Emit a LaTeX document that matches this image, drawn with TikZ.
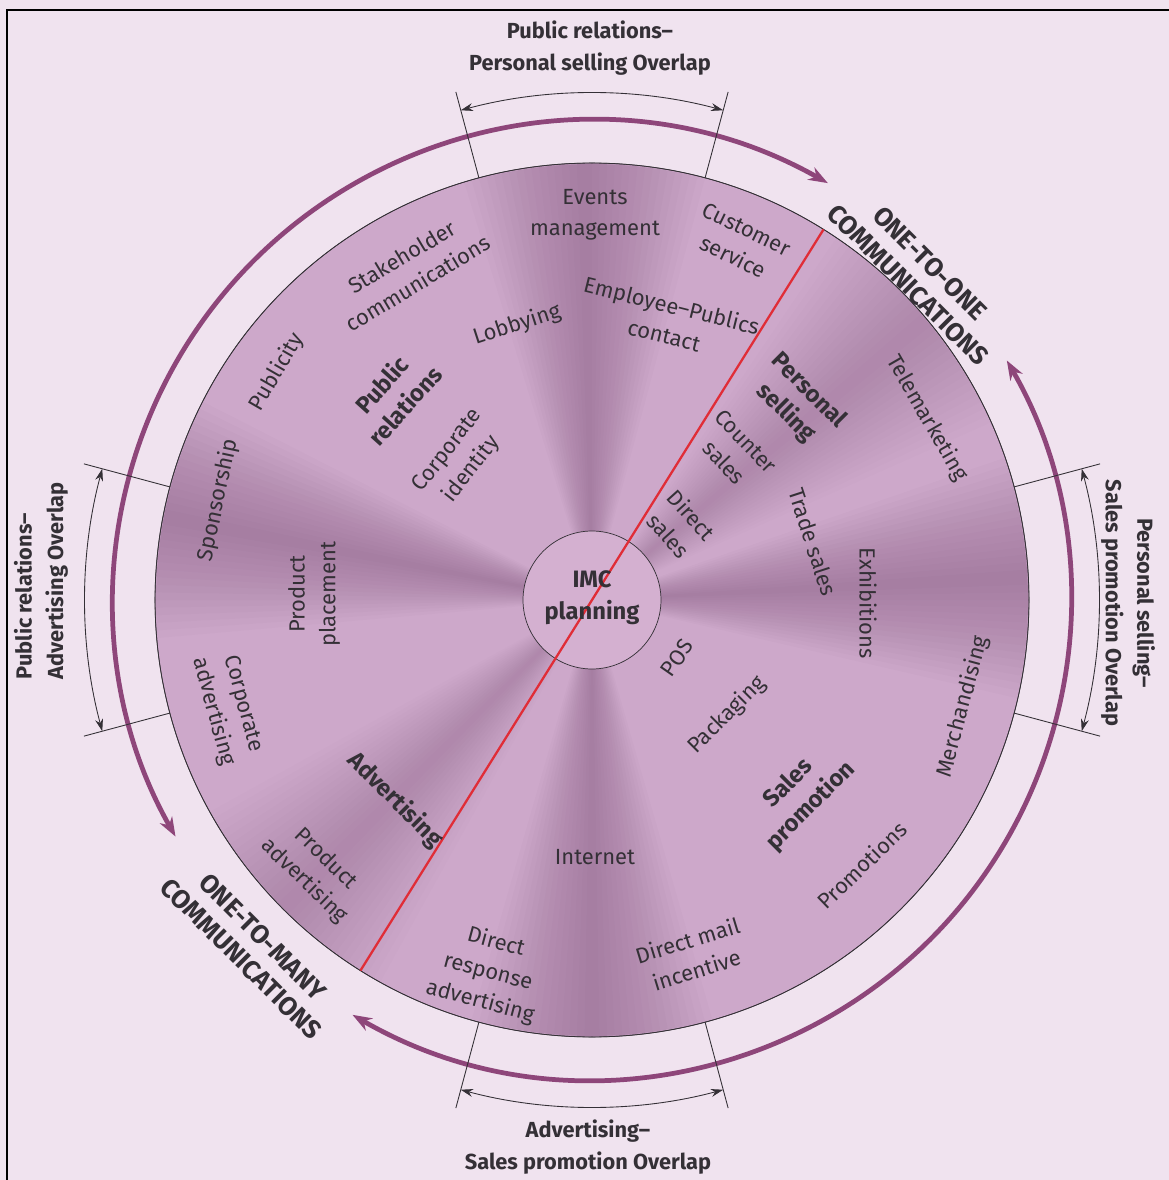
\documentclass[tikz,border=0pt]{standalone}
\usepackage{fontspec}
\setmainfont{Fira Sans}
\usetikzlibrary{arrows.meta}
\definecolor{pagebg}{RGB}{240,227,239}
\definecolor{wheelbase}{RGB}{205,168,202}
\definecolor{wheelray}{RGB}{128,84,124}
\definecolor{imcfill}{RGB}{212,176,208}
\definecolor{ringpurple}{RGB}{142,70,122}
\definecolor{splitred}{RGB}{224,45,55}
\definecolor{inkgray}{RGB}{52,48,54}
\tikzset{
  elem/.style={font=\fontsize{12.5}{17.5}\selectfont, text=inkgray, align=center, inner sep=1pt},
  tool/.style={elem, font=\fontsize{13.5}{18}\selectfont\bfseries},
  overlap/.style={font=\fontsize{12.4}{18}\selectfont\bfseries, text=inkgray, align=center, inner sep=1pt},
  reach/.style={font=\fontsize{14.8}{17.5}\selectfont\bfseries, text=inkgray, align=center, inner sep=1pt},
  reacharc/.style={draw=ringpurple, line width=2.7pt,
    {Stealth[length=11pt,width=8pt]}-{Stealth[length=11pt,width=8pt]}},
  overlaparc/.style={draw=inkgray, line width=0.5pt,
    {Stealth[length=7pt,width=4.5pt]}-{Stealth[length=7pt,width=4.5pt]}},
  tickline/.style={draw=inkgray, line width=0.5pt},
  wheel/.style={circle, draw=inkgray, line width=0.4pt, outer sep=0pt, inner sep=0pt},
}

\begin{document}
\begin{tikzpicture}[x=0.02cm, y=0.02cm]
  \useasboundingbox (-592,-580) rectangle (577,600);
  \fill[pagebg] (-592,-580) rectangle (577,600);
  \draw[black, line width=1.1pt] (-585,-580) -- (-585,590) -- (577,590);

  % one-to-many / one-to-one reach arrows
  \draw[reacharc] (60.5:479) arc[start angle=60.5, end angle=209.6, radius=479];
  \draw[reacharc] (240:479) arc[start angle=240, end angle=390, radius=479];

  % the disk and its soft rays
  \node[wheel, fill=wheelbase, minimum size=17.48cm] (disk) at (0,0) {};
  \begin{scope}
    \clip (0,0) circle[radius=436];
    \foreach \a/\op in {91/0.034, 3/0.034, 169/0.034, 270/0.034, 40/0.02, 225/0.02}
      \foreach \w in {1,...,16}
        \fill[wheelray, opacity=\op] (0,0) -- ({\a-\w}:460)
          arc[start angle=\a-\w, end angle=\a+\w, radius=460] -- cycle;
  \end{scope}
  \draw[inkgray, line width=0.4pt] (disk) circle[radius=437];

  % overlap ticks and arrows
  \foreach \t in {15,75,105,165,195,255,285,345}
    \draw[tickline] (disk.\t) -- (\t:526);
  \draw[overlaparc] (75:507) arc[start angle=75, end angle=105, radius=507];
  \draw[overlaparc] (165:507) arc[start angle=165, end angle=195, radius=507];
  \draw[overlaparc] (255:507) arc[start angle=255, end angle=285, radius=507];
  \draw[overlaparc] (-15:507) arc[start angle=-15, end angle=15, radius=507];

  \node[overlap] (prps) at (-2,552) {Public relations--\\Personal selling Overlap};
  \node[overlap] (adsp) at (-4,-547) {Advertising--\\Sales promotion Overlap};
  \node[overlap, rotate=90, align=left] (pradv) at (-551,19) {Public relations--\\Advertising Overlap};
  \node[overlap, rotate=-90] (pssp) at (536,-3) {Personal selling--\\Sales promotion Overlap};

  \node[reach, rotate=-45] (onetoone) at (327,326) {ONE-TO-ONE\\COMMUNICATIONS};
  \node[reach, rotate=-45] (onetomany) at (-340,-348) {ONE-TO-MANY\\COMMUNICATIONS};

  % centre
  \node[wheel, fill=imcfill, minimum size=2.76cm] (imc) at (0,0) {};
  \draw[splitred, line width=1.3pt] (disk.58.4) -- (disk.238.4);
  \node[tool] (imctext) at (0,2) {IMC\\planning};

  % public relations
  \node[elem] (events) at (3,385) {Events\\management};
  \node[elem, rotate=-26] (custsvc) at (148,357) {Customer\\service};
  \node[elem, rotate=31] (stake) at (-182,330) {Stakeholder\\communications};
  \node[elem, rotate=18] (lobby) at (-75,275) {Lobbying};
  \node[elem, rotate=-14] (emppub) at (76,280) {Employee--Publics\\contact};
  \node[elem, rotate=60] (publicity) at (-315,228) {Publicity};
  \node[tool, rotate=48] (pr) at (-199,205) {Public\\relations};
  \node[elem, rotate=52] (corpid) at (-132,140) {Corporate\\identity};
  \node[elem, rotate=78] (sponsor) at (-374,100) {Sponsorship};
  \node[elem, rotate=90] (placement) at (-278,6) {Product\\placement};
  % advertising
  \node[elem, rotate=-75] (corpadv) at (-364,-108) {Corporate\\advertising};
  \node[tool, rotate=-45] (adv) at (-197,-200) {Advertising};
  \node[elem, rotate=-44] (prodadv) at (-277,-270) {Product\\advertising};
  \node[elem, rotate=-15] (dradv) at (-104,-372) {Direct\\response\\advertising};
  \node[elem] (internet) at (3,-257) {Internet};
  % sales promotion
  \node[elem, rotate=17] (dmail) at (100,-355) {Direct mail\\incentive};
  \node[elem, rotate=44] (promos) at (270,-265) {Promotions};
  \node[tool, rotate=45] (sp) at (208,-195) {Sales\\promotion};
  \node[elem, rotate=45] (pack) at (135,-115) {Packaging};
  \node[elem, rotate=55] (pos) at (85,-58) {POS};
  \node[elem, rotate=75] (merch) at (371,-107) {Merchandising};
  \node[elem, rotate=-90] (exhib) at (276,-3) {Exhibitions};
  % personal selling
  \node[elem, rotate=-72] (trade) at (221,58) {Trade sales};
  \node[elem, rotate=-46] (counter) at (143,148) {Counter\\sales};
  \node[elem, rotate=-48] (direct) at (88,75) {Direct\\sales};
  \node[tool, rotate=-45] (ps) at (205,198) {Personal\\selling};
  \node[elem, rotate=-60] (tele) at (335,182) {Telemarketing};
\end{tikzpicture}
\end{document}
